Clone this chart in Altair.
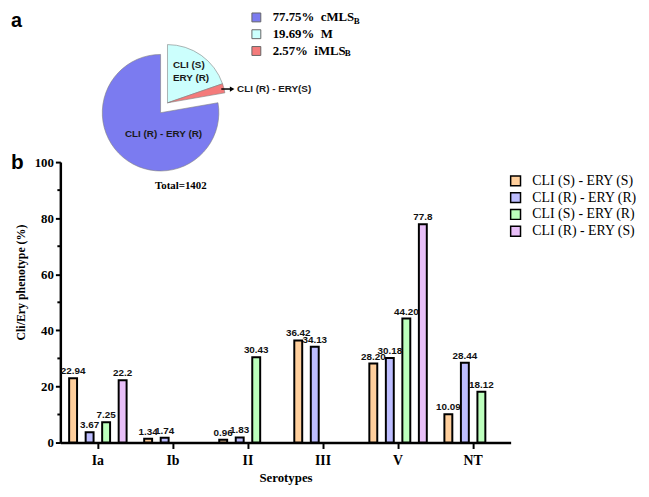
import altair as alt
import pandas as pd

# ---------------- data ----------------
serotypes = ["Ia", "Ib", "II", "III", "V", "NT"]
phenotypes = ["CLI (S) - ERY (S)", "CLI (R) - ERY (R)", "CLI (S) - ERY (R)", "CLI (R) - ERY (S)"]

ss_vals = [22.94, 1.34, 0.96, 36.42, 28.20, 10.09]
ss_lbls = ["22.94", "1.34", "0.96", "36.42", "28.20", "10.09"]
rr_vals = [3.67, 1.74, 1.83, 34.13, 30.18, 28.44]
rr_lbls = ["3.67", "1.74", "1.83", "34.13", "30.18", "28.44"]
sr_vals = [7.25, None, 30.43, None, 44.20, 18.12]
sr_lbls = ["7.25", None, "30.43", None, "44.20", "18.12"]
rs_vals = [22.2, None, None, None, 77.8, None]
rs_lbls = ["22.2", None, None, None, "77.8", None]

bar_colors = ["#FFCF9C", "#BDBDFF", "#BDFFBD", "#E8BFF8"]

y_major = [0, 20, 40, 60, 80, 100]
y_minor = [10, 30, 50, 70, 90]

pie_groups = ["cMLSB", "M", "iMLSB"]
pie_pct = [77.75, 19.69, 2.57]
pie_legend = ["77.75%\u00a0\u00a0cMLS", "19.69%\u00a0\u00a0M", "2.57%\u00a0\u00a0iMLS"]
pie_order = [2, 0, 1]          # clockwise order from 12 o'clock
pie_colors = ["#7B7BF0", "#CCFFFD", "#F47B7B"]
total_n = 1402

SERIF = "Liberation Serif"
SANS = "Liberation Sans"

# ---------------- tables ----------------
rows = []
for ph, vals, lbls in zip(phenotypes, [ss_vals, rr_vals, sr_vals, rs_vals],
                          [ss_lbls, rr_lbls, sr_lbls, rs_lbls]):
    for s, v, l in zip(serotypes, vals, lbls):
        if v is not None:
            rows.append({"serotype": s, "phenotype": ph, "value": v, "label": l})
bar_df = pd.DataFrame(rows)

pie_df = pd.DataFrame({"group": pie_groups, "pct": pie_pct,
                       "legend": pie_legend, "order": pie_order})

x_scale = alt.Scale(domain=serotypes, paddingInner=0.12, paddingOuter=0.06)
xo_scale = alt.Scale(domain=phenotypes, paddingInner=0.52, paddingOuter=0.26)
y_scale = alt.Scale(domain=[0, 100], nice=False)

AX_X = alt.Axis(labelAngle=0, labelFont=SERIF, labelFontSize=14, labelFontWeight="bold",
                labelColor="black", labelPadding=5, tickSize=6, tickWidth=2,
                tickColor="black", domainWidth=2.5, domainColor="black",
                titleFont=SERIF, titleFontSize=13, titleFontWeight="bold",
                titleColor="black", titlePadding=4, grid=False)
AX_Y = alt.Axis(values=y_major, labelFont=SERIF, labelFontSize=13, labelFontWeight="bold",
                labelColor="black", labelPadding=2, tickSize=5, tickWidth=2,
                tickColor="black", domainWidth=2.5, domainColor="black", grid=False)

X_ENC = alt.X("serotype:N", scale=x_scale, sort=serotypes, title="Serotypes", axis=AX_X)
XO_ENC = alt.XOffset("phenotype:N", scale=xo_scale, sort=phenotypes)
Y_ENC = alt.Y("value:Q", scale=y_scale, title=None, axis=AX_Y)

# ---------------- bars ----------------
bars = alt.Chart(bar_df).mark_bar(stroke="black", strokeWidth=2).encode(
    x=X_ENC, xOffset=XO_ENC, y=Y_ENC,
    fill=alt.Fill("phenotype:N", sort=phenotypes,
                  scale=alt.Scale(domain=phenotypes, range=bar_colors),
                  legend=alt.Legend(title=None, orient="none", legendX=454, legendY=12,
                                    symbolType="square", symbolSize=100,
                                    symbolStrokeColor="black", symbolStrokeWidth=1.5,
                                    labelFont=SERIF, labelFontSize=14, labelColor="black",
                                    labelOffset=10, rowPadding=1, padding=0, labelLimit=200)),
)

labels = alt.Chart(bar_df).mark_text(font=SANS, fontSize=10, fontWeight="bold",
                                     color="#111", baseline="alphabetic", dy=-4).encode(
    x=X_ENC, xOffset=XO_ENC, y=Y_ENC, text="label:N",
)

minor = alt.Chart(pd.DataFrame({"value": y_minor})).mark_rule(color="black", strokeWidth=2).encode(
    y=Y_ENC, x=alt.value(-3), x2=alt.value(0),
)

# ---------------- pie ----------------
pie_base = alt.Chart(pie_df).transform_window(
    cum="sum(pct)", sort=[alt.SortField("order")], frame=[None, 0]
).transform_calculate(start="datum.cum - datum.pct")

theta_scale = alt.Scale(domain=[0, sum(pie_pct)])
pie_color_scale = alt.Scale(domain=pie_legend, range=pie_colors)

pie_main = pie_base.transform_filter("datum.group == 'cMLSB'").mark_arc(
    radius=59, stroke="#808080", strokeWidth=0.6).encode(
    theta=alt.Theta("start:Q", scale=theta_scale),
    theta2="cum:Q",
    color=alt.Color("legend:N", scale=pie_color_scale,
                    legend=alt.Legend(title=None, orient="none", legendX=192, legendY=-153,
                                      symbolType="square", symbolSize=81,
                                      symbolStrokeColor="#666", symbolStrokeWidth=1,
                                      labelFont=SERIF, labelFontSize=13, labelFontWeight="bold",
                                      labelColor="black", labelOffset=10, rowPadding=3,
                                      padding=0)),
    x=alt.value(101.5), y=alt.value(-50),
)

pie_expl = pie_base.transform_filter("datum.group != 'cMLSB'").mark_arc(
    radius=59, stroke="#808080", strokeWidth=0.6).encode(
    theta=alt.Theta("start:Q", scale=theta_scale),
    theta2="cum:Q",
    color=alt.Color("legend:N", scale=pie_color_scale, legend=None),
    x=alt.value(108.5), y=alt.value(-60),
)


def note(text, x, y, font=SANS, size=10, weight="bold", align="center",
         baseline="middle", angle=0, color="#1a1a1a"):
    return alt.Chart(pd.DataFrame({"t": [text]})).mark_text(
        font=font, fontSize=size, fontWeight=weight, align=align,
        baseline=baseline, angle=angle, color=color).encode(
        text="t:N", x=alt.value(x), y=alt.value(y))


arrow_line = alt.Chart(pd.DataFrame({"a": [0]})).mark_rule(color="black", strokeWidth=1.5).encode(
    x=alt.value(163), x2=alt.value(172), y=alt.value(-74))
arrow_head = alt.Chart(pd.DataFrame({"a": [0]})).mark_point(
    shape="triangle-right", filled=True, color="black", size=28, opacity=1).encode(
    x=alt.value(174), y=alt.value(-74))

notes = [
    note("CLI (S)", 114, -98, align="left"),
    note("ERY (R)", 114, -85, align="left"),
    note("CLI (R) - ERY (R)", 104.5, -28),
    note("CLI (R) - ERY(S)", 179, -74, align="left"),
    note(f"Total={total_n}", 122, 24, font=SERIF, size=11, color="black"),
    note("a", -50, -137, size=20, align="left", baseline="alphabetic", color="black"),
    note("b", -50, 7, size=21, align="left", baseline="alphabetic", color="black"),
    note("Cli/Ery phenotype (%)", -40, 122, font=SERIF, size=12, angle=270, color="black"),
    note("B", 297, -140, font=SERIF, size=9, align="left", baseline="alphabetic", color="black"),
    note("B", 288, -107, font=SERIF, size=9, align="left", baseline="alphabetic", color="black"),
]

chart = alt.layer(bars, labels, minor, pie_main, pie_expl, arrow_line, arrow_head, *notes).resolve_scale(
    color="independent", fill="independent"
).properties(
    width=456, height=284,
    autosize=alt.AutoSizeParams(type="none"),
    padding={"left": 53, "top": 153, "right": 132, "bottom": 44},
).configure_view(stroke=None)

chart.save("out.html", embed_options={"renderer": "svg", "actions": False})
